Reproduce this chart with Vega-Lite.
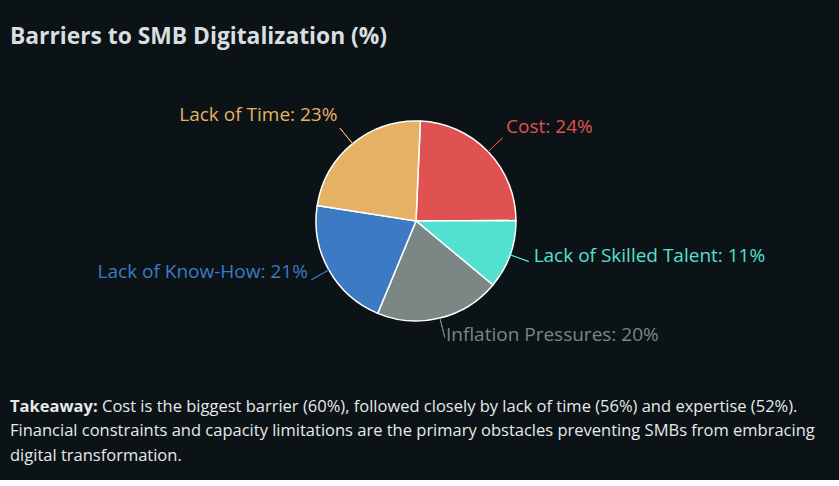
{
  "$schema": "https://vega.github.io/schema/vega-lite/v6.json",
  "background": "#0b1316",
  "padding": {"left": 10, "top": 26, "right": 17, "bottom": 0},
  "title": {
    "text": "Barriers to SMB Digitalization (%)",
    "anchor": "start",
    "font": "Open Sans",
    "fontSize": 22.8,
    "fontWeight": "bold",
    "color": "#d9dee0",
    "offset": 41
  },
  "config": {
    "view": {"stroke": null},
    "concat": {"spacing": 30}
  },
  "vconcat": [
    {
      "width": 812,
      "height": 262,
      "data": {
        "values": [
          {"barrier": "Cost", "share": 24, "order": 1, "side": "right"},
          {"barrier": "Lack of Skilled Talent", "share": 11, "order": 2, "side": "right"},
          {"barrier": "Inflation Pressures", "share": 20, "order": 3, "side": "right"},
          {"barrier": "Lack of Know-How", "share": 21, "order": 4, "side": "left"},
          {"barrier": "Lack of Time", "share": 23, "order": 5, "side": "left"}
        ]
      },
      "transform": [
        {"calculate": "datum.side == 'right' ? datum.barrier + ': ' + datum.share + '%' : ''", "as": "label_right"},
        {"calculate": "datum.side == 'left' ? datum.barrier + ': ' + datum.share + '%' : ''", "as": "label_left"}
      ],
      "encoding": {
        "theta": {"field": "share", "type": "quantitative", "stack": true, "scale": {"range": [0.0436, 6.3268]}},
        "order": {"field": "order", "type": "quantitative"},
        "color": {
          "field": "barrier",
          "type": "nominal",
          "legend": null,
          "scale": {
            "domain": ["Cost", "Lack of Skilled Talent", "Inflation Pressures", "Lack of Know-How", "Lack of Time"],
            "range": ["#e05252", "#52e0d0", "#7a8784", "#3d7ac4", "#e5b264"]
          }
        }
      },
      "layer": [
        {
          "mark": {"type": "arc", "outerRadius": 100, "stroke": "#ffffff", "strokeWidth": 1.5}
        },
        {
          "mark": {"type": "arc", "radius": 120, "radius2": 100, "padAngle": 3, "filled": false, "strokeWidth": 1}
        },
        {
          "mark": {"type": "text", "radius": 125, "align": "left", "baseline": "middle", "dy": -7, "font": "Open Sans", "fontSize": 19},
          "encoding": {"text": {"field": "label_right"}}
        },
        {
          "mark": {"type": "text", "radius": 124, "align": "right", "baseline": "middle", "dy": -10, "font": "Open Sans", "fontSize": 19},
          "encoding": {"text": {"field": "label_left"}}
        }
      ]
    },
    {
      "width": 812,
      "height": 98,
      "data": {
        "values": [
          {"line": 1, "weight": "bold", "text": "Takeaway:"},
          {"line": 1, "weight": "normal", "text": "Cost is the biggest barrier (60%), followed closely by lack of time (56%) and expertise (52%)."},
          {"line": 2, "weight": "normal", "text": "Financial constraints and capacity limitations are the primary obstacles preventing SMBs from embracing"},
          {"line": 3, "weight": "normal", "text": "digital transformation."}
        ]
      },
      "encoding": {
        "y": {"field": "line", "type": "quantitative", "scale": {"domain": [0, 4], "reverse": true}, "axis": null},
        "x": {"value": 0},
        "text": {"field": "text"}
      },
      "layer": [
        {
          "transform": [{"filter": "datum.weight == 'bold'"}],
          "mark": {"type": "text", "align": "left", "baseline": "middle", "font": "Open Sans", "fontSize": 16.5, "fontWeight": "bold", "color": "#e6e9ea"}
        },
        {
          "transform": [{"filter": "datum.weight == 'normal' && datum.line == 1"}],
          "mark": {"type": "text", "align": "left", "baseline": "middle", "dx": 92, "font": "Open Sans", "fontSize": 16.5, "color": "#e6e9ea"}
        },
        {
          "transform": [{"filter": "datum.weight == 'normal' && datum.line > 1"}],
          "mark": {"type": "text", "align": "left", "baseline": "middle", "font": "Open Sans", "fontSize": 16.5, "color": "#e6e9ea"}
        }
      ]
    }
  ]
}
